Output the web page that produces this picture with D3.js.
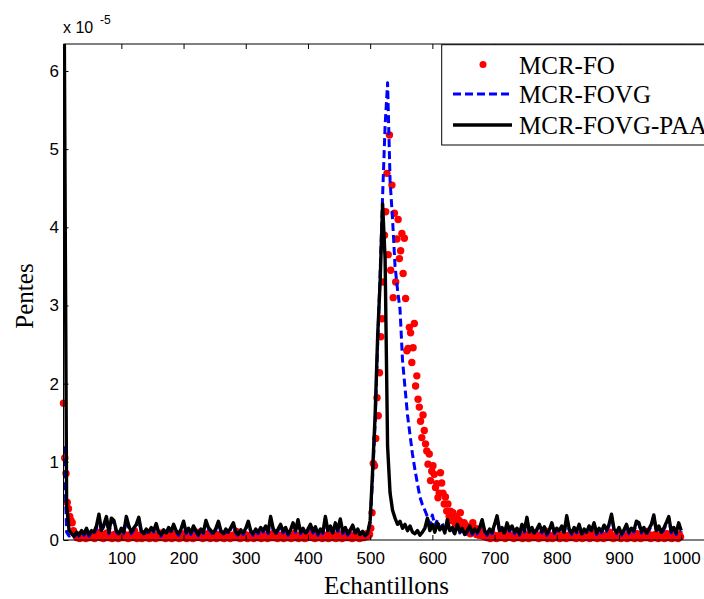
<!DOCTYPE html>
<html><head><meta charset="utf-8">
<script src="https://cdn.jsdelivr.net/npm/d3@7"></script>
<style>body{margin:0;background:#fff}svg{display:block}</style>
</head><body>
<svg id="chart" width="704" height="599"></svg>
<script>
// sample indices: lines every 4 samples from 8, dots every 2 samples from 7
const lineStart = 8, lineStep = 4;
const dotStart = 7, dotStep = 2;
const seriesNames = ["MCR-FO", "MCR-FOVG", "MCR-FOVG-PAA"];
const xTicks = [100, 200, 300, 400, 500, 600, 700, 800, 900, 1000];
const yTicks = [0, 1, 2, 3, 4, 5, 6];

// MCR-FOVG-PAA (black solid), units of 1e-5
const mcrFovgPaa = [
7.0,0.45,0.12,0.08,0.05,0.1,0.06,0.12,0.08,0.15,
0.07,0.12,0.1,0.18,0.33,0.12,0.2,0.3,0.1,0.28,
0.25,0.12,0.08,0.15,0.1,0.3,0.18,0.1,0.15,0.2,
0.29,0.12,0.08,0.14,0.1,0.16,0.12,0.21,0.1,0.07,
0.13,0.09,0.16,0.11,0.2,0.12,0.08,0.14,0.24,0.1,
0.15,0.09,0.18,0.12,0.07,0.14,0.1,0.25,0.16,0.12,
0.09,0.15,0.24,0.12,0.08,0.14,0.1,0.16,0.22,0.11,
0.07,0.13,0.09,0.15,0.24,0.12,0.08,0.14,0.1,0.16,
0.12,0.18,0.1,0.3,0.15,0.09,0.14,0.2,0.11,0.16,
0.08,0.13,0.22,0.12,0.26,0.1,0.15,0.09,0.14,0.2,
0.11,0.17,0.08,0.14,0.1,0.3,0.12,0.18,0.09,0.22,
0.13,0.27,0.1,0.16,0.08,0.13,0.19,0.09,0.14,0.07,
0.11,0.06,0.09,0.25,0.9,1.6,2.6,3.3,4.3,3.6,
1.2,0.6,0.38,0.28,0.2,0.24,0.15,0.2,0.12,0.18,
0.1,0.08,0.12,0.06,0.1,0.15,0.28,0.12,0.2,0.1,
0.22,0.13,0.18,0.09,0.26,0.12,0.16,0.08,0.2,0.11,
0.15,0.07,0.12,0.18,0.09,0.14,0.1,0.16,0.26,0.12,
0.08,0.14,0.1,0.2,0.31,0.12,0.16,0.09,0.22,0.13,
0.18,0.1,0.15,0.08,0.2,0.12,0.29,0.1,0.16,0.09,
0.14,0.2,0.11,0.17,0.08,0.13,0.22,0.1,0.15,0.12,
0.18,0.1,0.31,0.14,0.09,0.16,0.11,0.2,0.08,0.14,
0.1,0.18,0.12,0.22,0.09,0.15,0.11,0.19,0.13,0.2,
0.33,0.14,0.1,0.16,0.08,0.13,0.2,0.1,0.15,0.12,
0.24,0.22,0.11,0.16,0.09,0.14,0.2,0.32,0.12,0.18,
0.1,0.15,0.22,0.3,0.11,0.16,0.09,0.22,0.12
];

// MCR-FOVG (blue dashed)
const mcrFovg = [
1.2,0.1,0.05,0.06,0.04,0.08,0.05,0.1,0.06,0.12,
0.05,0.1,0.08,0.15,0.3,0.1,0.18,0.27,0.08,0.25,
0.22,0.1,0.06,0.13,0.08,0.27,0.15,0.08,0.13,0.17,
0.26,0.1,0.06,0.12,0.08,0.14,0.1,0.19,0.08,0.05,
0.11,0.07,0.14,0.09,0.18,0.1,0.06,0.12,0.22,0.08,
0.13,0.07,0.16,0.1,0.05,0.12,0.08,0.23,0.14,0.1,
0.07,0.13,0.22,0.1,0.06,0.12,0.08,0.14,0.2,0.09,
0.05,0.11,0.07,0.13,0.22,0.1,0.06,0.12,0.08,0.14,
0.1,0.16,0.08,0.28,0.13,0.07,0.12,0.18,0.09,0.14,
0.06,0.11,0.2,0.1,0.24,0.08,0.13,0.07,0.12,0.18,
0.09,0.15,0.06,0.12,0.08,0.28,0.1,0.16,0.07,0.2,
0.11,0.25,0.08,0.14,0.06,0.11,0.17,0.07,0.12,0.05,
0.09,0.05,0.08,0.22,0.8,1.5,2.5,3.4,4.4,5.3,
5.85,4.6,4.1,3.5,3.2,2.95,2.3,1.95,1.6,1.35,
1.1,0.9,0.72,0.55,0.45,0.38,0.3,0.2,0.32,0.18,
0.26,0.15,0.22,0.12,0.2,0.1,0.14,0.07,0.18,0.09,
0.13,0.06,0.1,0.16,0.07,0.12,0.08,0.14,0.24,0.1,
0.06,0.12,0.08,0.18,0.29,0.1,0.14,0.07,0.2,0.11,
0.16,0.08,0.13,0.06,0.18,0.1,0.27,0.08,0.14,0.07,
0.12,0.18,0.09,0.15,0.06,0.11,0.2,0.08,0.13,0.1,
0.16,0.08,0.29,0.12,0.07,0.14,0.09,0.18,0.06,0.12,
0.08,0.16,0.1,0.2,0.07,0.13,0.09,0.17,0.11,0.18,
0.31,0.12,0.08,0.14,0.06,0.11,0.18,0.08,0.13,0.1,
0.22,0.2,0.09,0.14,0.07,0.12,0.18,0.3,0.1,0.16,
0.08,0.13,0.2,0.28,0.09,0.14,0.07,0.2,0.1
];

// MCR-FO (red dots)
const mcrFo = [
1.75,1.05,0.85,0.48,0.4,0.3,0.25,0.22,0.12,0.08,
0.05,0.03,0.06,0.02,0.04,0.07,0.03,0.05,0.02,0.04,
0.06,0.03,0.05,0.08,0.04,0.02,0.05,0.1,0.04,0.06,
0.03,0.05,0.02,0.07,0.04,0.09,0.03,0.05,0.06,0.02,
0.04,0.07,0.03,0.05,0.02,0.06,0.04,0.03,0.08,0.05,
0.03,0.06,0.02,0.04,0.07,0.03,0.05,0.12,0.04,0.02,
0.06,0.03,0.05,0.02,0.04,0.08,0.03,0.05,0.06,0.02,
0.04,0.03,0.07,0.05,0.02,0.04,0.06,0.03,0.05,0.09,
0.03,0.05,0.02,0.04,0.06,0.03,0.05,0.02,0.07,0.04,
0.03,0.06,0.04,0.02,0.05,0.08,0.03,0.04,0.06,0.02,
0.05,0.03,0.04,0.07,0.02,0.05,0.03,0.06,0.04,0.1,
0.03,0.05,0.02,0.04,0.06,0.03,0.08,0.05,0.02,0.04,
0.06,0.03,0.05,0.02,0.07,0.04,0.03,0.05,0.06,0.02,
0.04,0.08,0.03,0.05,0.02,0.04,0.06,0.03,0.05,0.11,
0.03,0.05,0.02,0.06,0.04,0.03,0.07,0.05,0.02,0.04,
0.06,0.03,0.05,0.02,0.04,0.08,0.03,0.05,0.06,0.02,
0.04,0.03,0.06,0.05,0.02,0.07,0.04,0.03,0.05,0.09,
0.03,0.05,0.02,0.04,0.06,0.03,0.05,0.02,0.07,0.04,
0.03,0.06,0.04,0.02,0.05,0.08,0.03,0.04,0.06,0.02,
0.05,0.03,0.04,0.07,0.02,0.05,0.03,0.06,0.04,0.1,
0.03,0.05,0.02,0.04,0.06,0.03,0.08,0.05,0.02,0.04,
0.06,0.03,0.05,0.02,0.07,0.04,0.03,0.05,0.06,0.02,
0.04,0.08,0.03,0.05,0.02,0.04,0.06,0.03,0.05,0.09,
0.03,0.05,0.02,0.06,0.04,0.03,0.07,0.05,0.02,0.04,
0.05,0.03,0.06,0.04,0.08,0.05,0.07,0.15,0.35,0.98,
0.95,1.3,1.82,1.59,2.14,2.6,2.83,3.3,3.9,4.2,
4.69,3.65,5.18,3.45,4.54,3.1,4.18,3.3,3.85,4.1,
3.6,3.7,3.92,3.41,3.86,3.09,2.42,2.45,2.72,2.65,
2.27,2.46,2.77,1.97,2.1,1.8,1.7,1.52,1.31,1.6,
1.4,1.23,1.14,0.97,1.1,0.76,0.88,0.95,0.84,0.67,
0.72,0.54,0.6,0.86,0.73,0.6,0.46,0.55,0.37,0.46,
0.3,0.37,0.25,0.35,0.28,0.2,0.3,0.18,0.25,0.35,
0.22,0.15,0.22,0.12,0.18,0.1,0.15,0.08,0.12,0.22,
0.1,0.15,0.07,0.12,0.06,0.1,0.15,0.05,0.08,0.04,
0.06,0.03,0.05,0.02,0.04,0.07,0.03,0.05,0.02,0.04,
0.06,0.03,0.05,0.08,0.04,0.02,0.05,0.1,0.04,0.06,
0.03,0.05,0.02,0.07,0.04,0.09,0.03,0.05,0.06,0.02,
0.04,0.07,0.03,0.05,0.02,0.06,0.04,0.03,0.08,0.05,
0.03,0.06,0.02,0.04,0.07,0.03,0.05,0.12,0.04,0.02,
0.06,0.03,0.05,0.02,0.04,0.08,0.03,0.05,0.06,0.02,
0.04,0.03,0.07,0.05,0.02,0.04,0.06,0.03,0.05,0.09,
0.03,0.05,0.02,0.04,0.06,0.03,0.05,0.02,0.07,0.04,
0.03,0.06,0.04,0.02,0.05,0.08,0.03,0.04,0.06,0.02,
0.05,0.03,0.04,0.07,0.02,0.05,0.03,0.06,0.04,0.1,
0.03,0.05,0.02,0.04,0.06,0.03,0.08,0.05,0.02,0.04,
0.06,0.03,0.05,0.02,0.07,0.04,0.03,0.05,0.06,0.02,
0.04,0.08,0.03,0.05,0.02,0.04,0.06,0.03,0.05,0.11,
0.03,0.05,0.02,0.06,0.04,0.03,0.07,0.05,0.02,0.04,
0.06,0.03,0.05,0.02,0.04,0.08,0.03,0.05,0.06,0.02,
0.04,0.03,0.06,0.05,0.02,0.07,0.04
];

const svg = d3.select("#chart");
const L = 63.5, R = 709.8, T = 44, B = 540;
const x = d3.scaleLinear().domain([7, 1046]).range([L, R]);
const y = d3.scaleLinear().domain([0, 6.345]).range([B, T]);

svg.append("defs").append("clipPath").attr("id", "clip")
  .append("rect").attr("x", L).attr("y", T).attr("width", R - L).attr("height", B - T);

const sans = "'Liberation Sans', Arial, sans-serif";
const serif = "'Liberation Serif', 'Times New Roman', serif";

// red dots
svg.append("g").selectAll("circle").data(mcrFo).join("circle")
  .attr("cx", (d, i) => x(dotStart + i * dotStep))
  .attr("cy", d => y(d))
  .attr("r", 3.7)
  .attr("fill", "#ff0000");

const line = d3.line()
  .x((d, i) => x(lineStart + i * lineStep))
  .y(d => y(d));

const plot = svg.append("g").attr("clip-path", "url(#clip)");
plot.append("path").datum(mcrFovg).attr("d", line)
  .attr("fill", "none").attr("stroke", "#0000ff").attr("stroke-width", 3)
  .attr("stroke-dasharray", "8,4").attr("stroke-linejoin", "round");
plot.append("path").datum(mcrFovgPaa).attr("d", line)
  .attr("fill", "none").attr("stroke", "#000").attr("stroke-width", 3.4)
  .attr("stroke-linejoin", "round");

// axes
const gx = svg.append("g").attr("transform", `translate(0,${B})`)
  .call(d3.axisBottom(x).tickValues(xTicks).tickSize(-5).tickPadding(12).tickFormat(d3.format("d")));
const gxt = svg.append("g").attr("transform", `translate(0,${T})`)
  .call(d3.axisTop(x).tickValues(xTicks).tickSize(-5).tickFormat(""));
const gy = svg.append("g").attr("transform", `translate(${L},0)`)
  .call(d3.axisLeft(y).tickValues(yTicks).tickSize(-5).tickPadding(4.5).tickFormat(d3.format("d")));
[gx, gxt, gy].forEach(g => {
  g.select(".domain").remove();
  g.selectAll("line").attr("stroke", "#000").attr("stroke-width", 1);
  g.selectAll("text").attr("font-family", sans).attr("font-size", 17).attr("fill", "#000");
});

// box lines
svg.append("line").attr("x1", L).attr("x2", R).attr("y1", B).attr("y2", B).attr("stroke", "#000");
svg.append("line").attr("x1", L).attr("x2", R).attr("y1", T).attr("y2", T).attr("stroke", "#000");
svg.append("line").attr("x1", L).attr("x2", L).attr("y1", T).attr("y2", B).attr("stroke", "#000");

// exponent
svg.append("text").attr("x", 63).attr("y", 33).attr("font-family", sans).attr("font-size", 16).text("x 10");
svg.append("text").attr("x", 100).attr("y", 24).attr("font-family", sans).attr("font-size", 12).text("-5");

// axis titles
svg.append("text").attr("x", 386.5).attr("y", 594).attr("text-anchor", "middle")
  .attr("font-family", serif).attr("font-size", 25).text("Echantillons");
svg.append("text").attr("transform", "translate(32.5,296) rotate(-90)").attr("text-anchor", "middle")
  .attr("font-family", serif).attr("font-size", 25).text("Pentes");

// legend
const lg = svg.append("g");
lg.append("rect").attr("x", 441.7).attr("y", 44.7).attr("width", 320).attr("height", 100.3)
  .attr("fill", "#fff").attr("stroke", "#000").attr("stroke-width", 1);
const rowsY = [64.5, 94, 125];
lg.append("circle").attr("cx", 483).attr("cy", rowsY[0]).attr("r", 3.5).attr("fill", "#ff0000");
lg.append("line").attr("x1", 453).attr("x2", 512).attr("y1", rowsY[1]).attr("y2", rowsY[1])
  .attr("stroke", "#0000ff").attr("stroke-width", 3).attr("stroke-dasharray", "8,4");
lg.append("line").attr("x1", 453).attr("x2", 512).attr("y1", rowsY[2]).attr("y2", rowsY[2])
  .attr("stroke", "#000").attr("stroke-width", 3.4);
lg.selectAll("text.lt").data(seriesNames).join("text").attr("class", "lt")
  .attr("x", 519).attr("y", (d, i) => rowsY[i] + 9)
  .attr("font-family", serif).attr("font-size", 25).text(d => d);
</script>
</body></html>
